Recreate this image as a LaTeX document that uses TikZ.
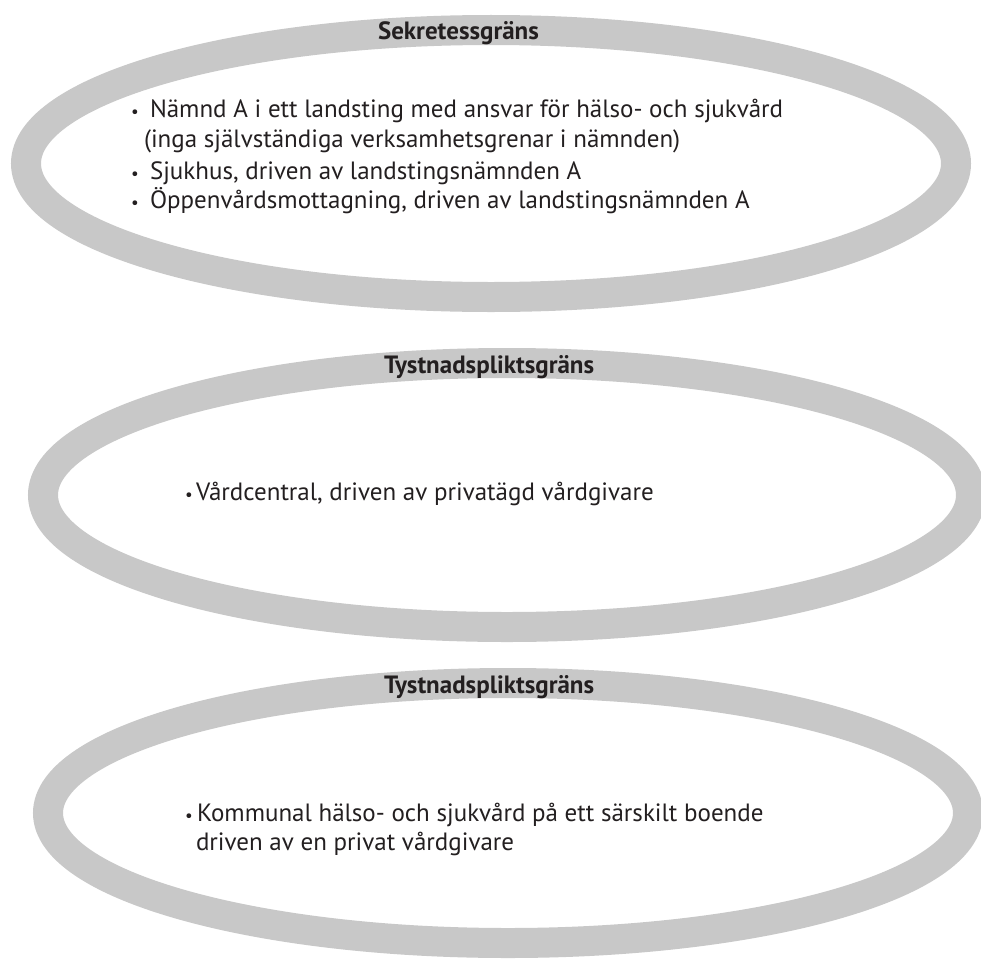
\documentclass[tikz,border=0pt]{standalone}
\usepackage{fontspec}
\setmainfont{PT Sans}
\usetikzlibrary{shapes.geometric}
\definecolor{ringgray}{RGB}{200,200,200}
\definecolor{ink}{RGB}{35,31,32}
\begin{document}
\begin{tikzpicture}[x=1pt,y=1pt,
  ring/.style={ellipse, draw=ringgray, line width=30pt, inner sep=0pt, outer sep=0pt},
  body/.style={anchor=base west, inner sep=0pt, outer sep=0pt, text=ink, font=\fontsize{25}{30}\selectfont},
  bul/.style={anchor=base, inner sep=0pt, outer sep=0pt, text=ink, font=\fontsize{17}{20}\selectfont},
  lab/.style={anchor=base west, inner sep=0pt, outer sep=0pt, text=ink, font=\fontsize{25}{30}\selectfont\bfseries}]
\useasboundingbox (0,0) rectangle (981,-958);
\fill[white] (0,0) rectangle (981,-958);
\clip (0,0) rectangle (981,-958);
% rings
\node[ring, minimum width=930pt, minimum height=267pt] (r1) at (491,-163.5) {};
\node[ring, minimum width=928pt, minimum height=264pt] (r2) at (507,-495) {};
\node[ring, minimum width=920pt, minimum height=260pt] (r3) at (508,-813) {};
% labels
\node[lab] (l1) at (378,-40) {Sekretessgräns};
\node[lab] (l2) at (384,-373) {Tystnadspliktsgräns};
\node[lab] (l3) at (384,-693) {Tystnadspliktsgräns};
% ring 1 text
\node[bul] (b11) at (135,-117) {•};
\node[body] (t11) at (150,-117) {Nämnd A i ett landsting med ansvar för hälso- och sjukvård};
\node[body] (t12) at (144,-147) {(inga självständiga verksamhetsgrenar i nämnden)};
\node[bul] (b13) at (135,-179) {•};
\node[body] (t13) at (150,-179) {Sjukhus, driven av landstingsnämnden A};
\node[bul] (b14) at (135,-208) {•};
\node[body] (t14) at (150,-208) {Öppenvårdsmottagning, driven av landstingsnämnden A};
% ring 2 text
\node[bul] (b21) at (189,-500) {•};
\node[body] (t21) at (196,-500) {Vårdcentral, driven av privatägd vårdgivare};
% ring 3 text
\node[bul] (b31) at (189,-821) {•};
\node[body] (t31) at (197,-821) {Kommunal hälso- och sjukvård på ett särskilt boende};
\node[body] (t32) at (196,-850) {driven av en privat vårdgivare};
\end{tikzpicture}
\end{document}
